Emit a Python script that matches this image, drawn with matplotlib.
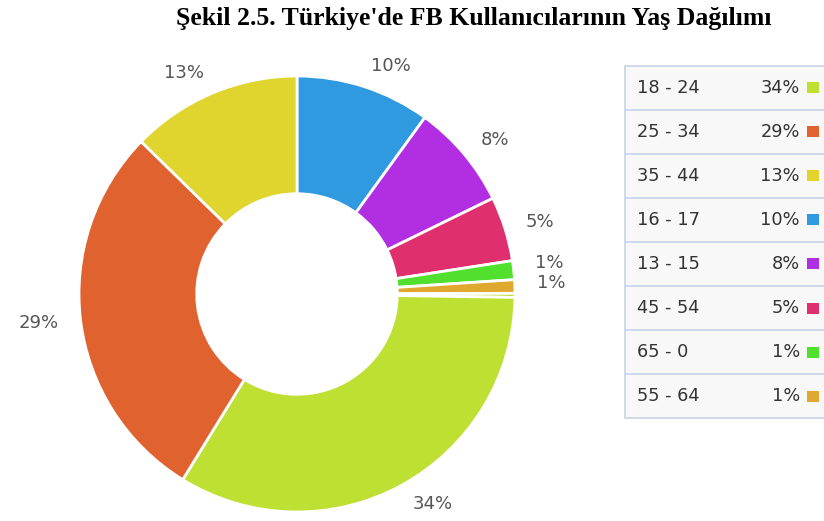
import numpy as np
import matplotlib
matplotlib.use("Agg")
import matplotlib.pyplot as plt
from matplotlib.patches import Rectangle

# ---- data ----
title = "Şekil 2.5. Türkiye'de FB Kullanıcılarının Yaş Dağılımı"
# pie order clockwise from 12 o'clock
pie_groups = ["16 - 17", "13 - 15", "45 - 54", "65 - 0", "55 - 64", "other", "18 - 24", "25 - 34", "35 - 44"]
pie_values = [10.0, 7.8, 4.8, 1.4, 1.0, 0.3, 33.6, 28.6, 12.7]
pie_labels = ["10%", "8%", "5%", "1%", "1%", "", "34%", "29%", "13%"]

legend_groups = ["18 - 24", "25 - 34", "35 - 44", "16 - 17", "13 - 15", "45 - 54", "65 - 0", "55 - 64"]
legend_pcts = ["34%", "29%", "13%", "10%", "8%", "5%", "1%", "1%"]

colors = {
    "18 - 24": "#bde032", "25 - 34": "#e0622e", "35 - 44": "#e0d42e",
    "16 - 17": "#2f9ae0", "13 - 15": "#b22ee2", "45 - 54": "#e02f6e",
    "65 - 0": "#52e02e", "55 - 64": "#e0a82e", "other": "#bde032",
}

W, H = 824, 521
fig = plt.figure(figsize=(W / 100, H / 100), dpi=100)

# pie axes, positioned in pixels
cx, cy, r = 297, 294, 218
pax = fig.add_axes([(cx - r) / W, (H - cy - r) / H, 2 * r / W, 2 * r / H])
wedges, _ = pax.pie(pie_values, colors=[colors[g] for g in pie_groups],
                    startangle=90, counterclock=False, radius=1.0,
                    wedgeprops=dict(width=0.54, edgecolor="white", linewidth=2))
pax.set_xlim(-1, 1)
pax.set_ylim(-1, 1)
pax.set_aspect("equal")
pax.axis("off")

# percentage labels
nudges = {3: 0.023, 4: 0.014}
for i, (w, lab) in enumerate(zip(wedges, pie_labels)):
    if not lab:
        continue
    ang = np.deg2rad((w.theta1 + w.theta2) / 2)
    d = 1.1
    x, y = d * np.cos(ang), d * np.sin(ang)
    y += nudges.get(i, 0)
    pax.text(x, y, lab, ha="left" if x >= 0 else "right", va="center",
             fontsize=13, color="#555555", family="DejaVu Sans", clip_on=False)

# overlay axes in pixel coords for legend and title
ov = fig.add_axes([0, 0, 1, 1])
ov.set_xlim(0, W)
ov.set_ylim(H, 0)
ov.axis("off")

ov.text(474, 18, title, ha="center", va="center", fontsize=18.5,
        fontweight="bold", family="Liberation Serif", color="black")

top, rowh = 65.5, 44.1
left = 625
n = len(legend_groups)
ov.add_patch(Rectangle((left, top), 220, rowh * n, facecolor="#f8f8f8",
                       edgecolor="#c9d3e6", linewidth=1.2, clip_on=True))
for i, (g, p) in enumerate(zip(legend_groups, legend_pcts)):
    yc = top + rowh * (i + 0.5)
    if i > 0:
        ov.plot([left, W], [top + rowh * i] * 2, color="#c9d3e6", lw=1.2)
    ov.text(637, yc, g, ha="left", va="center", fontsize=12.8, color="#333333",
            family="DejaVu Sans")
    ov.text(800, yc, p, ha="right", va="center", fontsize=12.8, color="#333333",
            family="DejaVu Sans")
    ov.add_patch(Rectangle((807, yc - 5.5), 12, 11, facecolor=colors[g], edgecolor="none"))

fig.savefig("out.png", dpi=100)
